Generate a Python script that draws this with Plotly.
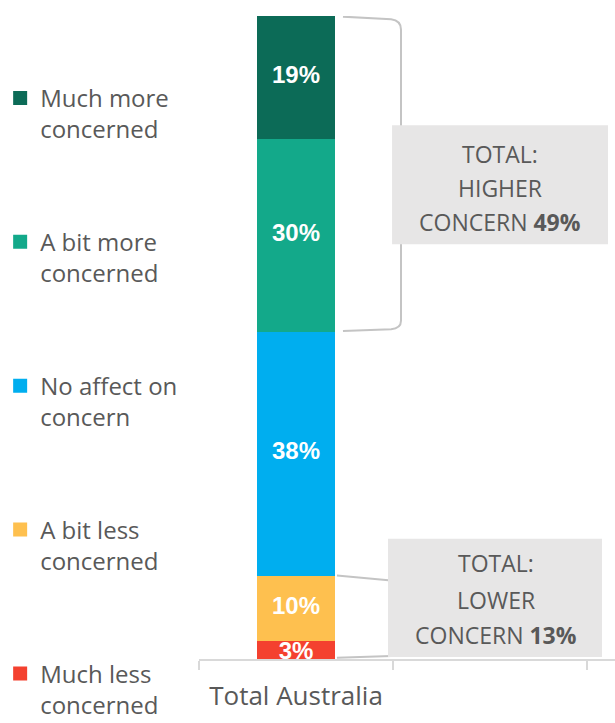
import plotly.graph_objects as go

# ---- data -------------------------------------------------------------
categories = ["Total Australia"]
series_names = [
    "Much less<br>concerned",
    "A bit less<br>concerned",
    "No affect on<br>concern",
    "A bit more<br>concerned",
    "Much more<br>concerned",
]
series_values = [3, 10, 38, 30, 19]          # stacked bottom -> top
series_colors = ["#F4412F", "#FEC04F", "#00AEEF", "#13A98A", "#0C6B57"]
higher_total = 49                            # A bit more + Much more
lower_total = 13                             # Much less + A bit less

TEXT_GREY = "#595959"
LINE_GREY = "#D9D9D9"
BRACKET_GREY = "#C4C4C4"
BOX_GREY = "#E7E6E6"

fig = go.Figure()

# stacked bar segments; legend lists the top segment first
n = len(series_values)
for i, (name, val, col) in enumerate(zip(series_names, series_values, series_colors)):
    fig.add_trace(go.Bar(
        x=[0], y=[val], name=name,
        marker=dict(color=col, line=dict(color=col, width=2)),
        width=0.387, legendgroup=name, legendrank=n - i,
        hoverinfo="skip",
    ))

# value labels in the middle of each segment
cum = 0
label_y = []
for v in series_values:
    label_y.append(cum + v / 2)
    cum += v
total = cum
# the thin bottom segment's label sits low and is cut off by the axis
label_y[0] -= 0.6
fig.add_trace(go.Scatter(
    x=[0] * len(series_values), y=label_y,
    text=[f"{v}%" for v in series_values],
    mode="text", textposition="middle center",
    textfont=dict(family="Liberation Sans, Arial", size=24, color="white", weight="bold"),
    cliponaxis=True, showlegend=False, hoverinfo="skip",
))

# ---- brackets -----------------------------------------------------------
top = total
mid = total - higher_total
low = lower_total

upper_path = (
    f"M 0.242,{top - 0.1} L 0.49,{top - 0.5} "
    f"Q 0.541,{top - 0.7} 0.541,{top - 2.1} "
    f"L 0.541,{mid + 1.6} Q 0.541,{mid + 0.4} 0.49,{mid + 0.3} "
    f"L 0.242,{mid}"
)
lower_path = (
    f"M 0.211,{low} L 0.49,{low - 0.8} "
    f"Q 0.541,{low - 1.0} 0.541,{low - 2.5} "
    f"L 0.541,1.8 Q 0.541,0.5 0.49,0.45 L 0.211,0.2"
)
shapes = [
    dict(type="path", path=upper_path, xref="x", yref="y",
         line=dict(color=BRACKET_GREY, width=2)),
    dict(type="path", path=lower_path, xref="x", yref="y",
         line=dict(color=BRACKET_GREY, width=2)),
    dict(type="rect", xref="x", yref="y", x0=0.495, x1=1.608, y0=64.5, y1=83.0,
         fillcolor=BOX_GREY, line=dict(width=0)),
    dict(type="rect", xref="x", yref="y", x0=0.474, x1=1.577, y0=0.3, y1=18.7,
         fillcolor=BOX_GREY, line=dict(width=0)),
]

box_font = dict(family="Open Sans", size=23, color=TEXT_GREY)
annotations = []
for lines, xc, ys in [
    (["TOTAL:", "HIGHER", f"CONCERN <b>{higher_total}%</b>"], 1.0515, [78.5, 73.25, 67.96]),
    (["TOTAL:", "LOWER", f"CONCERN <b>{lower_total}%</b>"], 1.031, [14.93, 9.18, 3.73]),
]:
    for t, yy in zip(lines, ys):
        annotations.append(dict(
            text=t, x=xc, y=yy, xref="x", yref="y", showarrow=False,
            xanchor="center", yanchor="middle", font=box_font,
        ))

fig.update_layout(
    width=615, height=723,
    margin=dict(l=199, r=0, t=16, b=64, autoexpand=False),
    barmode="stack",
    paper_bgcolor="white", plot_bgcolor="white",
    showlegend=True,
    legend=dict(
        x=-0.478, xanchor="left", y=0.907, yanchor="top",
        traceorder="grouped", tracegroupgap=78.5, valign="top",
        maxheight=800,
        font=dict(family="Open Sans", size=24, color=TEXT_GREY),
        bgcolor="rgba(0,0,0,0)",
    ),
    xaxis=dict(
        range=[-0.5, 1.644], tickvals=[0], ticktext=categories,
        ticks="", showgrid=False, zeroline=False,
        showline=True, linecolor=LINE_GREY, linewidth=1.5,
        ticklabelstandoff=13,
        tickfont=dict(family="Open Sans", size=26, color=TEXT_GREY),
        minor=dict(tickvals=[-0.5, 0.5, 1.5], ticks="outside", ticklen=9,
                   tickcolor=LINE_GREY, tickwidth=1.5, showgrid=False),
    ),
    yaxis=dict(range=[0, 100], visible=False),
    shapes=shapes,
    annotations=annotations,
)

fig.write_html("out.html")
